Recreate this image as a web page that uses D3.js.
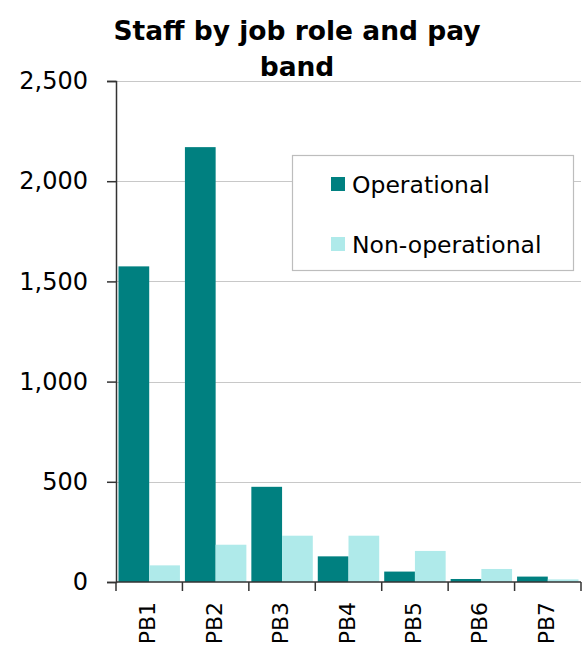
<!DOCTYPE html>
<html>
<head>
<meta charset="utf-8">
<script src="https://cdn.jsdelivr.net/npm/d3@7"></script>
<style>
  html, body { margin: 0; padding: 0; background: #fff; }
  svg text { font-family: "DejaVu Sans", Verdana, sans-serif; fill: #000; }
</style>
</head>
<body>
<svg id="chart" width="582" height="648"></svg>
<script>
// Pay bands and head counts per job role
const bands = ["PB1", "PB2", "PB3", "PB4", "PB5", "PB6", "PB7"];
const seriesNames = ["Operational", "Non-operational"];
const operational = [1575, 2170, 475, 128, 52, 15, 27];
const nonOperational = [83, 186, 231, 231, 155, 65, 13];
const yTicks = [0, 500, 1000, 1500, 2000, 2500];
const titleLines = ["Staff by job role and pay", "band"];

const colors = ["#008080", "#afeaea"];

const svg = d3.select("#chart");
const margin = { left: 116, right: 1, top: 81, bottom: 66 };
const W = 582, H = 648;

const x = d3.scaleBand().domain(bands).range([margin.left, W - margin.right]).paddingInner(0.075).paddingOuter(0.0375);
const xOuter = d3.scaleBand().domain(bands).range([margin.left, W - margin.right]);
const y = d3.scaleLinear().domain([0, 2500]).range([H - margin.bottom, margin.top]);
const xs = d3.scaleBand().domain(seriesNames).range([0, x.bandwidth()]);

// Gridlines
svg.append("g").selectAll("line").data(yTicks.slice(1)).join("line")
  .attr("x1", margin.left).attr("x2", W - margin.right)
  .attr("y1", d => Math.round(y(d)) + 0.5).attr("y2", d => Math.round(y(d)) + 0.5)
  .attr("stroke", "#c8c8c8").attr("stroke-width", 1.2);

// Bars
const rows = bands.map((b, i) => ({ band: b, values: [operational[i], nonOperational[i]] }));
svg.append("g").selectAll("g").data(rows).join("g")
  .attr("transform", d => `translate(${x(d.band)},0)`)
  .selectAll("rect").data(d => d.values.map((v, k) => ({ name: seriesNames[k], v, k })))
  .join("rect")
  .attr("x", d => xs(d.name))
  .attr("width", xs.bandwidth())
  .attr("y", d => y(d.v))
  .attr("height", d => y(0) - y(d.v))
  .attr("fill", d => colors[d.k]);

// Y axis
const yAxis = svg.append("g").attr("transform", `translate(${margin.left},0)`)
  .call(d3.axisLeft(y).tickValues(yTicks).tickSize(9).tickPadding(19).tickFormat(d3.format(",")));
yAxis.select(".domain").attr("stroke", "#333").attr("stroke-width", 1.5);
yAxis.selectAll(".tick line").attr("stroke", "#333").attr("stroke-width", 1.5);
yAxis.selectAll(".tick text").attr("font-size", 24).attr("fill", "#000")
  .attr("font-family", "DejaVu Sans, sans-serif");

// X axis: baseline, boundary ticks and rotated labels
const xAxisG = svg.append("g");
xAxisG.append("line")
  .attr("x1", margin.left).attr("x2", W - margin.right)
  .attr("y1", y(0)).attr("y2", y(0))
  .attr("stroke", "#333").attr("stroke-width", 1.5);
const bounds = bands.map(b => xOuter(b)).concat([xOuter(bands[bands.length - 1]) + xOuter.bandwidth()]);
xAxisG.selectAll("line.tk").data(bounds).join("line").attr("class", "tk")
  .attr("x1", d => d).attr("x2", d => d)
  .attr("y1", y(0)).attr("y2", y(0) + 9)
  .attr("stroke", "#333").attr("stroke-width", 1.5);
xAxisG.selectAll("text").data(bands).join("text")
  .attr("transform", d => `translate(${xOuter(d) + xOuter.bandwidth() / 2 + 6},${y(0) + 20}) rotate(-90)`)
  .attr("text-anchor", "end")
  .attr("font-size", 22)
  .attr("font-family", "DejaVu Sans, sans-serif")
  .text(d => d);

// Title
svg.append("g").selectAll("text").data(titleLines).join("text")
  .attr("x", 297).attr("y", (d, i) => 40 + i * 36)
  .attr("text-anchor", "middle")
  .attr("font-size", 26.5).attr("font-weight", "bold")
  .attr("font-family", "DejaVu Sans, sans-serif")
  .text(d => d);

// Legend
const legend = svg.append("g");
legend.append("rect")
  .attr("x", 292.5).attr("y", 155.5).attr("width", 281).attr("height", 115)
  .attr("fill", "#fff").attr("stroke", "#bdbdbd").attr("stroke-width", 1.2);
const items = legend.selectAll("g").data(seriesNames).join("g")
  .attr("transform", (d, i) => `translate(331,${177 + i * 60})`);
items.append("rect").attr("width", 14).attr("height", 14).attr("fill", (d, i) => colors[i]);
items.append("text").attr("x", 21).attr("y", 16)
  .attr("font-size", 23.5)
  .attr("font-family", "DejaVu Sans, sans-serif")
  .text(d => d);
</script>
</body>
</html>
